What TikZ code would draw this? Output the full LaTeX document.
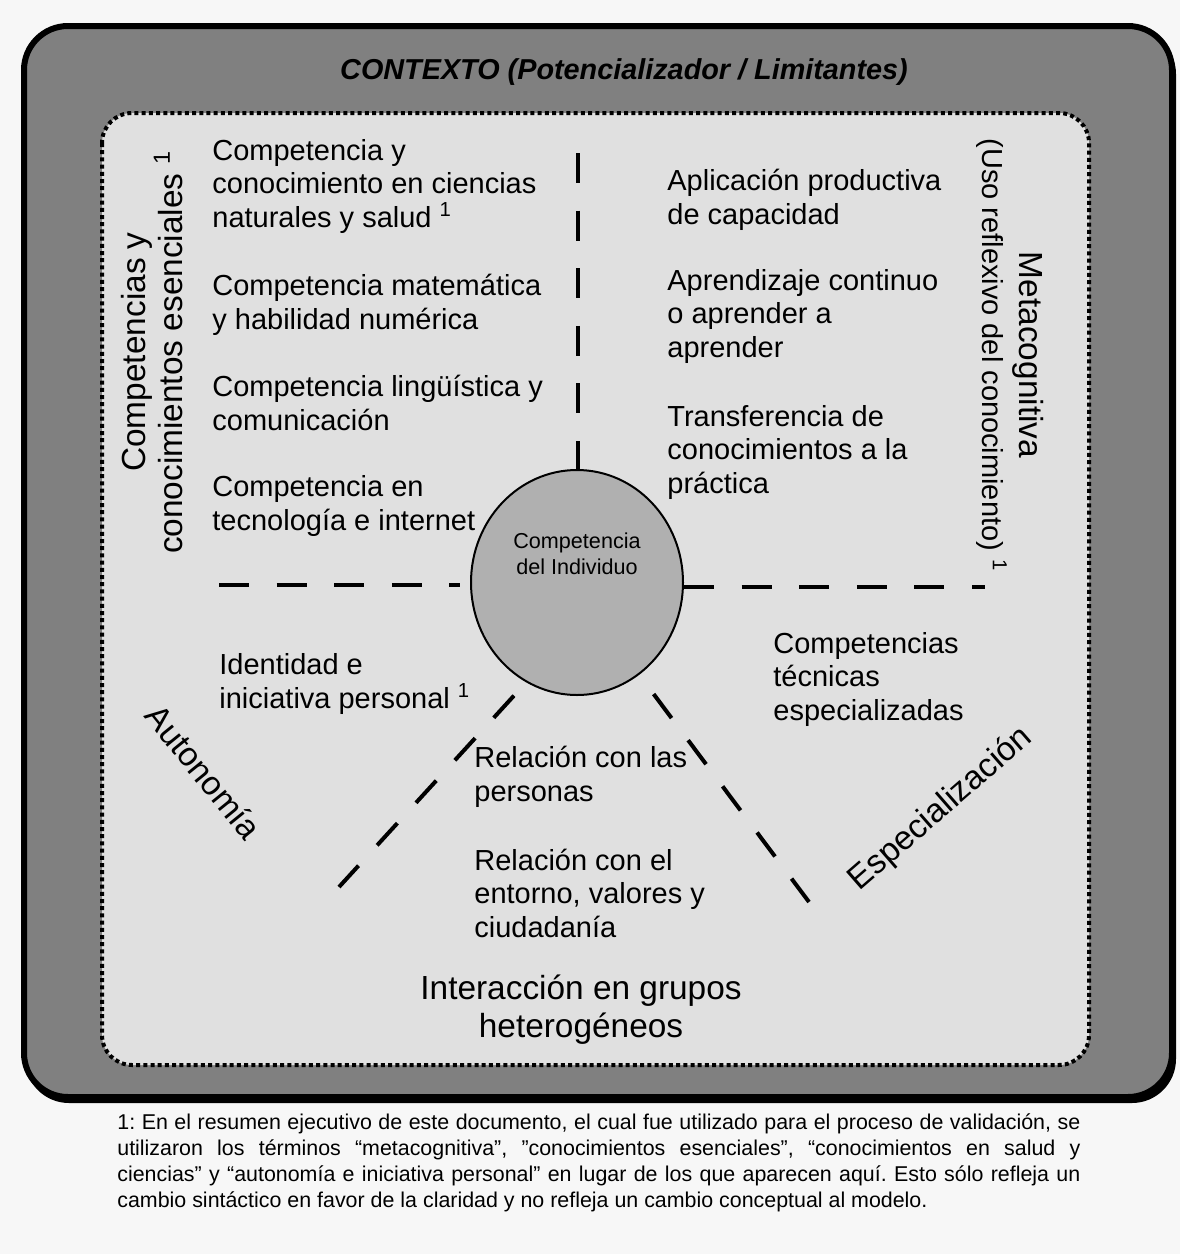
\documentclass[tikz,border=0pt]{standalone}
\usepackage{fontspec}
\setmainfont{Liberation Sans}
\usetikzlibrary{shapes.geometric}

\definecolor{fondo}{HTML}{F7F7F7}
\definecolor{contexto}{HTML}{808080}
\definecolor{interior}{HTML}{E0E0E0}
\definecolor{nucleo}{HTML}{B0B0B0}

\tikzset{
  texto/.style={anchor=base west, align=left, inner sep=0pt,
    font=\fontsize{14.5}{16.7}\selectfont},
  eje/.style={align=center, inner sep=0pt,
    font=\fontsize{16.7}{18.6}\selectfont},
  raya/.style={line width=2pt, dash pattern=on 15pt off 13.8pt},
}

\begin{document}
\begin{tikzpicture}[x=0.5pt,y=-0.5pt]

\useasboundingbox (0,0) rectangle (1180,1254);
\fill[fondo] (0,0) rectangle (1180,1254);

% Contexto
\fill[black, rounded corners=22pt] (25,30) rectangle (1176,1103);
\draw[line width=3pt, fill=contexto, rounded corners=22pt] (24,26) rectangle (1172,1097);
\node[anchor=base, inner sep=0pt, font=\bfseries\itshape\fontsize{14.4}{16}\selectfont] (ctx) at (624,79)
{CONTEXTO (Potencializador / Limitantes)};

% Marco interior
\draw[line width=2pt, dash pattern=on 2pt off 1.6pt, fill=interior, rounded corners=15pt]
  (102,113) rectangle (1089,1065);

% Competencia del individuo
\node[ellipse, draw, line width=1pt, fill=nucleo, minimum width=106pt,
  minimum height=112.5pt, inner sep=0pt] (ind) at (577,582.5) {};
\node[align=center, inner sep=0pt, font=\fontsize{10.8}{12.8}\selectfont] (indlbl) at (577,554)
{Competencia\\del Individuo};

% Ejes
\coordinate (arriba) at (578,153);
\coordinate (izq) at (219,585);
\coordinate (der) at (985,587);
\coordinate (abizq) at (339,887);
\coordinate (abder) at (809,902);

\draw[raya] (arriba) -- (arriba |- ind.north);
\draw[raya, shorten >=5pt] (izq) -- (izq -| ind.west);
\draw[raya] (der -| ind.east) -- (der);
\draw[raya, shorten <=9pt] (ind.243.4) -- (abizq);
\draw[raya, shorten <=12pt] (ind.304.5) -- (abder);

% Competencias y conocimientos esenciales
\node[texto] (cien) at (212,227) {Competencia y\\conocimiento en ciencias\\naturales y salud \textsuperscript{1}};
\node[texto] (mate) at (212,329) {Competencia matemática\\y habilidad numérica};
\node[texto] (ling) at (212,430) {Competencia lingüística y\\comunicación};
\node[texto] (tecn) at (212,530) {Competencia en\\tecnología e internet};

% Metacognitiva
\node[texto] (apli) at (667,224) {Aplicación productiva\\de capacidad};
\node[texto] (apre) at (667,357) {Aprendizaje continuo\\o aprender a\\aprender};
\node[texto] (tran) at (667,493) {Transferencia de\\conocimientos a la\\práctica};

% Autonomia
\node[texto] (iden) at (219,708) {Identidad e\\iniciativa personal \textsuperscript{1}};

% Especializacion
\node[texto] (tecnicas) at (773,720) {Competencias\\técnicas\\especializadas};

% Interaccion
\node[texto] (rpers) at (474,801) {Relación con las\\personas};
\node[texto] (rent) at (474,937) {Relación con el\\entorno, valores y\\ciudadanía};

% Rotulos de los ejes
\node[eje, rotate=90] (esen) at (152,352)
{Competencias y\\conocimientos esenciales \textsuperscript{1}};
\node[eje, rotate=-90] (meta) at (1010,355)
{Metacognitiva\\{\fontsize{14.5}{18.5}\selectfont (Uso reflexivo del conocimiento) \textsuperscript{1}}};
\node[eje, rotate=-51] (auto) at (204,772) {Autonomía};
\node[eje, rotate=41] (espe) at (941,809) {Especialización};
\node[eje, anchor=base] (inter) at (581,1037) {Interacción en grupos\\heterogéneos};

% Nota
\node[anchor=base west, text width=481.5pt, align=justify, inner sep=0pt,
  font=\fontsize{10.7}{13}\selectfont\frenchspacing] (nota) at (117,1129)
{1: En el resumen ejecutivo de este documento, el cual fue utilizado para el proceso de validación, se\linebreak
utilizaron los términos “metacognitiva”, ”conocimientos esenciales”, “conocimientos en salud y\linebreak
ciencias” y “autonomía e iniciativa personal” en lugar de los que aparecen aquí. Esto sólo refleja un\linebreak
cambio sintáctico en favor de la claridad y no refleja un cambio conceptual al modelo.};

\end{tikzpicture}
\end{document}
